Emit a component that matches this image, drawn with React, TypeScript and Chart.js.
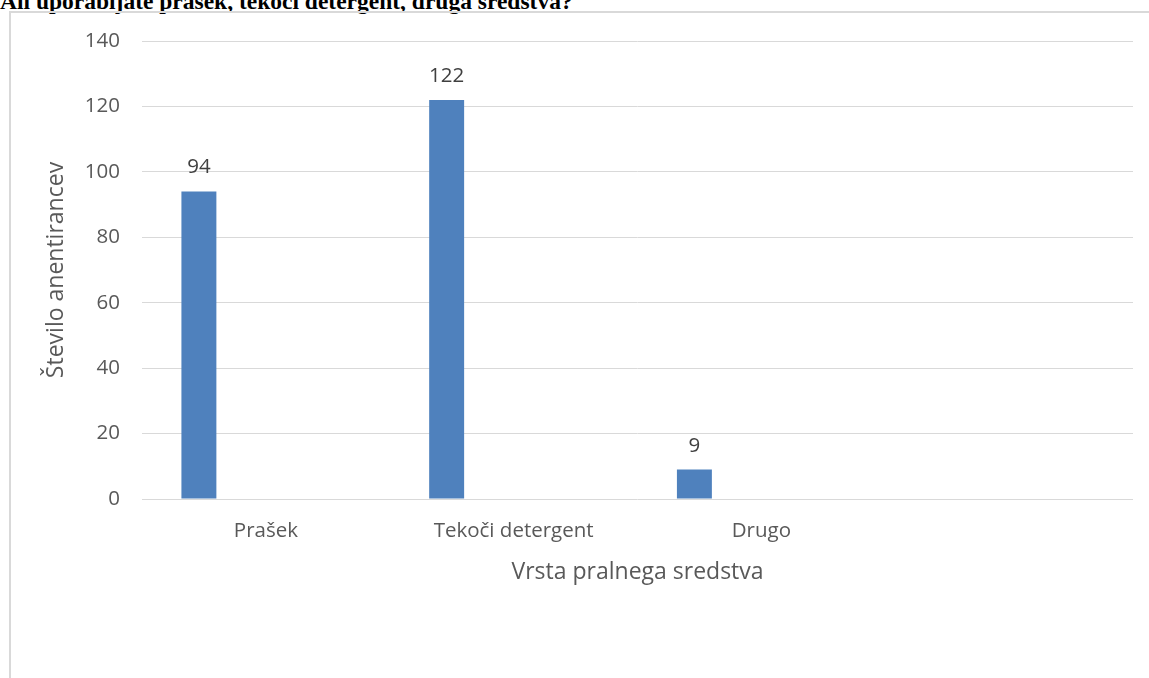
import React, { useEffect, useRef } from 'react';
import { Chart, registerables } from 'chart.js';

Chart.register(...registerables);

const chartTitle = 'Ali uporabljate prašek, tekoči detergent, druga sredstva?';
const categories = ['Prašek', 'Tekoči detergent', 'Drugo', ''];
const respondents: (number | null)[] = [94, 122, 9, null];
const emptySeriesB: (number | null)[] = [null, null, null, null];
const emptySeriesC: (number | null)[] = [null, null, null, null];
const yMin = 0;
const yMax = 140;
const yStep = 20;
const xAxisTitle = 'Vrsta pralnega sredstva';
const yAxisTitle = 'Število anentirancev';

const valueLabels = {
  id: 'valueLabels',
  afterDatasetsDraw(chart: any) {
    const ctx = chart.ctx;
    const meta = chart.getDatasetMeta(0);
    ctx.save();
    ctx.font = '20.5px "Open Sans"';
    ctx.fillStyle = '#404040';
    ctx.textAlign = 'center';
    ctx.textBaseline = 'alphabetic';
    meta.data.forEach((el: any, i: number) => {
      const v = respondents[i];
      if (v === null || v === undefined) return;
      ctx.fillText(String(v), el.x, el.y - 18);
    });
    ctx.restore();
  },
};

export default function App() {
  const ref = useRef<HTMLCanvasElement | null>(null);

  useEffect(() => {
    if (!ref.current) return;
    Chart.defaults.font.family = '"Open Sans"';
    const chart = new Chart(ref.current, {
      type: 'bar',
      data: {
        labels: categories,
        datasets: [
          {
            label: 'Število anketirancev',
            data: respondents,
            backgroundColor: '#4f81bd',
            borderWidth: 0,
            categoryPercentage: 0.811,
            barPercentage: 0.522,
          },
          {
            label: 'B',
            data: emptySeriesB,
            backgroundColor: '#c0504d',
            categoryPercentage: 0.811,
            barPercentage: 0.522,
          },
          {
            label: 'C',
            data: emptySeriesC,
            backgroundColor: '#9bbb59',
            categoryPercentage: 0.811,
            barPercentage: 0.522,
          },
        ],
      },
      options: {
        animation: false,
        responsive: false,
        devicePixelRatio: 1,
        layout: { padding: { top: 28, right: 16, left: 0, bottom: 92 } },
        plugins: {
          legend: { display: false },
          tooltip: { enabled: false },
          title: { display: false },
        },
        scales: {
          x: {
            grid: { display: false, drawTicks: false },
            border: { display: false },
            ticks: {
              color: '#595959',
              font: { size: 20.5 },
              padding: 20,
              maxRotation: 0,
              autoSkip: false,
            },
            title: {
              display: true,
              text: xAxisTitle,
              color: '#595959',
              font: { size: 23 },
              padding: { top: 0, bottom: 0 },
            },
            afterFit: (s: any) => {
              s.height = 87;
              s.paddingLeft = 0;
              s.paddingRight = 0;
            },
          },
          y: {
            min: yMin,
            max: yMax,
            grid: { color: '#d9d9d9', lineWidth: 1, drawTicks: false },
            border: { display: false },
            ticks: {
              stepSize: yStep,
              color: '#595959',
              font: { size: 20.5 },
              padding: 22,
            },
            title: {
              display: true,
              text: yAxisTitle,
              color: '#595959',
              font: { size: 23 },
              padding: { top: 32, bottom: 0 },
            },
            afterFit: (s: any) => {
              s.width = 131;
              s.paddingTop = 0;
              s.paddingBottom = 0;
            },
          },
        },
      },
      plugins: [valueLabels],
    });
    return () => chart.destroy();
  }, []);

  return (
    <div
      style={{
        position: 'absolute',
        left: 0,
        top: 0,
        width: 1149,
        height: 678,
        overflow: 'hidden',
        background: '#ffffff',
      }}
    >
      <div
        style={{
          position: 'absolute',
          left: 0,
          top: -10,
          fontFamily: '"Liberation Serif", "Times New Roman", serif',
          fontWeight: 'bold',
          fontSize: 23.5,
          lineHeight: '23.5px',
          whiteSpace: 'nowrap',
          color: '#000000',
        }}
      >
        {chartTitle}
      </div>
      <div
        style={{
          position: 'absolute',
          left: 9,
          top: 11,
          width: 1200,
          height: 700,
          borderLeft: '2px solid #d9d9d9',
          borderTop: '2px solid #d9d9d9',
        }}
      >
        <canvas ref={ref} width={1138} height={665} style={{ display: 'block' }} />
      </div>
    </div>
  );
}
